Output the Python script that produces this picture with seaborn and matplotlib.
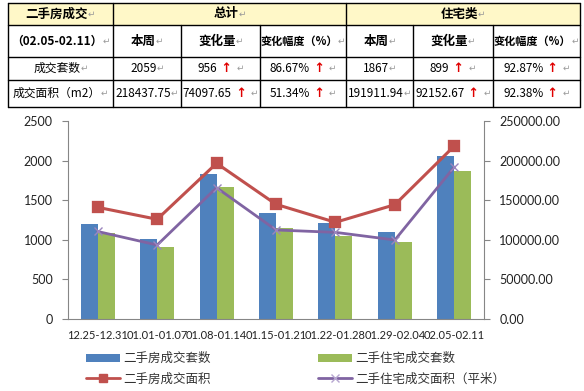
import numpy as np
import pandas as pd
import matplotlib
matplotlib.use("Agg")
import matplotlib.pyplot as plt
import seaborn as sns
from matplotlib.patches import Rectangle, Patch
from matplotlib.lines import Line2D
from matplotlib.ticker import FormatStrFormatter, FixedLocator

# ---------------- data ----------------
weeks = ['12.25-12.31', '01.01-01.07', '01.08-01.14', '01.15-01.21',
         '01.22-01.28', '01.29-02.04', '02.05-02.11']
all_units = [1205, 1015, 1835, 1338, 1215, 1103, 2059]          # 二手房成交套数
res_units = [1082, 912, 1667, 1155, 1046, 968, 1867]            # 二手住宅成交套数
all_area = [141000, 125900, 196600, 144800, 122100, 144340.10, 218437.75]   # 二手房成交面积
res_area = [110500, 93400, 165800, 112400, 109400, 99759.27, 191911.94]     # 二手住宅成交面积

bar_names = ['二手房成交套数', '二手住宅成交套数']
line_names = ['二手房成交面积', '二手住宅成交面积（平米）']

left_ticks = [0, 500, 1000, 1500, 2000, 2500]
right_ticks = [0, 50000, 100000, 150000, 200000, 250000]

# table data
tbl_title = '二手房成交'
tbl_period = '（02.05-02.11）'
tbl_groups = ['总计', '住宅类']
tbl_cols = ['本周', '变化量', '变化幅度（%）']
tbl_rows = ['成交套数', '成交面积（m2）']
total_week = ['2059', '218437.75']
total_change = ['956', '74097.65']
total_pct = ['86.67%', '51.34%']
res_week = ['1867', '191911.94']
res_change = ['899', '92152.67']
res_pct = ['92.87%', '92.38%']

# ---------------- style ----------------
sns.set_style('white')
plt.rcParams['font.family'] = ['Noto Sans CJK SC', 'DejaVu Sans']

BLUE = '#4F81BD'
GREEN = '#9BBB59'
RED = '#C0504D'
PURPLE = '#8064A2'
GRAY = '#868686'
TXT = '#222222'
LAT = ['Lato', 'DejaVu Sans']

W, H = 584, 391
fig = plt.figure(figsize=(W / 100, H / 100), dpi=100)

# ---------------- table (pixel coordinate overlay) ----------------
axt = fig.add_axes([0, 0, 1, 1], zorder=0)
axt.set_xlim(0, W)
axt.set_ylim(H, 0)
axt.axis('off')

xs = [8, 113, 181, 260, 346, 413, 493, 580]
ys = [3, 25, 57, 80, 107]

axt.add_patch(Rectangle((xs[0], ys[0]), xs[-1] - xs[0], ys[1] - ys[0],
                        facecolor='#FFF8C8', edgecolor='none'))
lw = 1.0
for y in ys:
    axt.plot([xs[0], xs[-1]], [y, y], color='black', lw=lw)
for i, x in enumerate(xs):
    if i in (0, 1, 4, 7):
        axt.plot([x, x], [ys[0], ys[-1]], color='black', lw=lw)
    else:
        axt.plot([x, x], [ys[1], ys[-1]], color='black', lw=lw)

renderer = fig.canvas.get_renderer()


def seg_text(cx, cy, segs):
    arts = []
    for s, color, weight, fam, size in segs:
        t = axt.text(0, cy, s, color=color, fontweight=weight, family=fam,
                     fontsize=size, ha='left', va='center')
        arts.append(t)
    widths = [a.get_window_extent(renderer).width for a in arts]
    x = cx - sum(widths) / 2
    for a, w in zip(arts, widths):
        a.set_x(x)
        x += w


CJK = ['Noto Sans CJK SC', 'DejaVu Sans']
RET = ('↵', '#9A9A9A', 'normal', ['DejaVu Sans'], 6.5)
ARR = (' ↑ ', '#E00000', 'bold', ['DejaVu Sans'], 9)


def cell(c0, c1, r, text, bold=False, arrow=False, size=9):
    cx = (xs[c0] + xs[c1]) / 2
    cy = (ys[r] + ys[r + 1]) / 2
    segs = [(text, 'black', 'bold' if bold else 'normal', CJK, size)]
    if arrow:
        segs.append(ARR)
    segs.append(RET)
    seg_text(cx, cy, segs)


cell(0, 1, 0, tbl_title, bold=True)
cell(1, 4, 0, tbl_groups[0], bold=True)
cell(4, 7, 0, tbl_groups[1], bold=True)
cell(0, 1, 1, tbl_period, bold=True, size=8.5)
for k, name in enumerate(tbl_cols):
    sz = 8 if k == 2 else 9
    cell(1 + k, 2 + k, 1, name, bold=True, size=sz)
    cell(4 + k, 5 + k, 1, name, bold=True, size=sz)
for r in range(2):
    cell(0, 1, 2 + r, tbl_rows[r], size=8.5)
    cell(1, 2, 2 + r, total_week[r], size=8.5)
    cell(2, 3, 2 + r, total_change[r], arrow=True, size=8.5)
    cell(3, 4, 2 + r, total_pct[r], arrow=True, size=8.5)
    cell(4, 5, 2 + r, res_week[r], size=8.5)
    cell(5, 6, 2 + r, res_change[r], arrow=True, size=8.5)
    cell(6, 7, 2 + r, res_pct[r], arrow=True, size=8.5)

# ---------------- chart ----------------
ax = fig.add_axes([68 / W, (H - 319) / H, (484 - 68) / W, (319 - 121) / H], zorder=2)
ax.patch.set_alpha(0)

bars = pd.DataFrame({
    'week': weeks * 2,
    'count': all_units + res_units,
    'series': [bar_names[0]] * len(weeks) + [bar_names[1]] * len(weeks),
})
sns.barplot(data=bars, x='week', y='count', hue='series', order=weeks,
            hue_order=bar_names, palette=[BLUE, GREEN], width=0.57,
            saturation=1, linewidth=0, legend=False, ax=ax)

ax2 = ax.twinx()
sns.pointplot(x=weeks, y=all_area, order=weeks, color=RED, markers='s',
              errorbar=None, ax=ax2, linewidth=2.2, markersize=7)
sns.pointplot(x=weeks, y=res_area, order=weeks, color=PURPLE, markers='x',
              errorbar=None, ax=ax2, linewidth=2.0, markersize=6,
              markeredgecolor='#9C86BE', markeredgewidth=1.0)

for a in (ax, ax2):
    a.set_xlim(-0.5, len(weeks) - 0.5)
    a.set_xlabel('')
    a.set_ylabel('')
    a.grid(False)

ax.set_ylim(0, 2500)
ax.set_yticks(left_ticks)
ax2.set_ylim(0, 250000)
ax2.set_yticks(right_ticks)
ax2.yaxis.set_major_formatter(FormatStrFormatter('%.2f'))

ax.set_xticks(range(len(weeks)))
ax.set_xticklabels(weeks)
ax.xaxis.set_minor_locator(FixedLocator(np.arange(-0.5, len(weeks), 1.0)))
ax.tick_params(axis='x', which='major', length=0, pad=8, labelsize=8,
               labelcolor=TXT)
ax.tick_params(axis='x', which='minor', length=4, color=GRAY, width=0.8,
               direction='out')
ax.tick_params(axis='y', length=4, color=GRAY, width=0.8, direction='out',
               pad=7, labelsize=9, labelcolor=TXT)
ax2.tick_params(axis='y', length=4, color=GRAY, width=0.8, direction='out',
                pad=7, labelsize=9, labelcolor=TXT)
for lab in ax.get_xticklabels() + ax.get_yticklabels() + ax2.get_yticklabels():
    lab.set_family(LAT)

for s in ('top', 'right'):
    ax.spines[s].set_visible(False)
for s in ('top', 'left', 'bottom'):
    ax2.spines[s].set_visible(False)
for s in ('left', 'bottom'):
    ax.spines[s].set_color(GRAY)
    ax.spines[s].set_linewidth(0.8)
ax2.spines['right'].set_color(GRAY)
ax2.spines['right'].set_linewidth(0.8)

# ---------------- legend ----------------
handles = [
    Patch(facecolor=BLUE, edgecolor='none'),
    Line2D([], [], color=RED, lw=2.0, marker='s', markersize=6),
    Patch(facecolor=GREEN, edgecolor='none'),
    Line2D([], [], color=PURPLE, lw=2.0, marker='x', markersize=6,
           markeredgecolor='#B6A6D0', markeredgewidth=1.0),
]
labels = [bar_names[0], line_names[0], bar_names[1], line_names[1]]
fig.legend(handles, labels, ncol=2, loc='upper left',
           bbox_to_anchor=(86 / W, 1 - 352 / H), frameon=False,
           fontsize=9, handlelength=2.7, handleheight=0.6,
           handletextpad=0.25, columnspacing=8.6, labelspacing=0.6,
           borderpad=0, borderaxespad=0, labelcolor='#333333')

fig.savefig('out.png', dpi=100)
